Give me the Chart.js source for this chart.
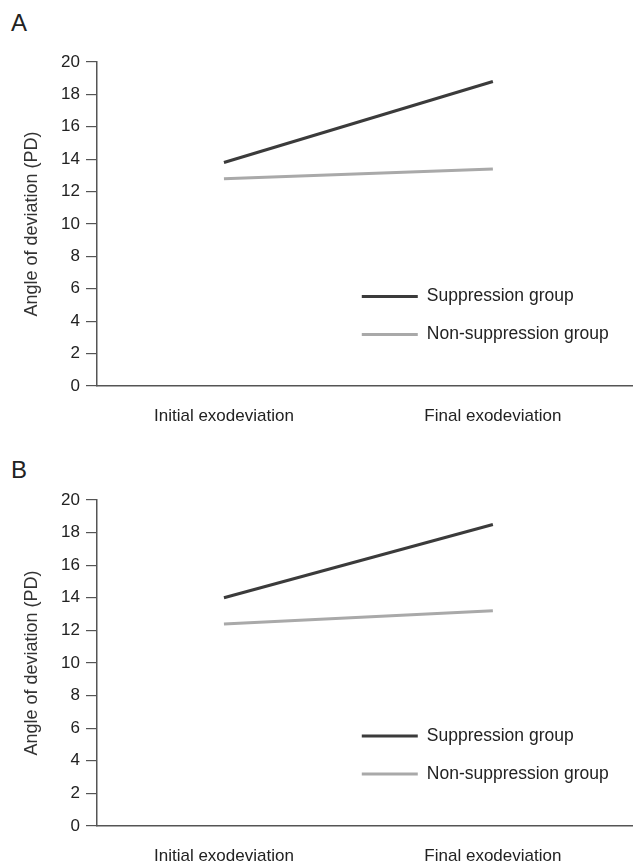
<!DOCTYPE html>
<html>
<head>
<meta charset="utf-8">
<script src="https://cdn.jsdelivr.net/npm/chart.js@4.4.1/dist/chart.umd.min.js"></script>
<style>
  html, body { margin: 0; padding: 0; background: #fff; }
  body { width: 633px; height: 864px; position: relative; overflow: hidden; font-family: "Liberation Sans", Arial, sans-serif; }
  .panel { position: absolute; left: 0; width: 633px; height: 432px; }
  .panel canvas { position: absolute; left: 0; top: 0; }
  .letter { position: absolute; left: 11px; font-size: 24px; color: #222; }
</style>
</head>
<body>
<div class="panel" style="top:0">
  <div class="letter" style="top:9px">A</div>
  <canvas id="chartA" width="633" height="432"></canvas>
</div>
<div class="panel" style="top:432px">
  <div class="letter" style="top:24px">B</div>
  <canvas id="chartB" width="633" height="432"></canvas>
</div>
<script>
const categories = ["Initial exodeviation", "Final exodeviation"]
const seriesNames = ["Suppression group", "Non-suppression group"]
const suppressionA = [13.8, 18.8]
const nonSuppressionA = [12.8, 13.4]
const suppressionB = [14.0, 18.5]
const nonSuppressionB = [12.4, 13.2]
const yMin = 0
const yMax = 20
const yStep = 2
const yTitle = "Angle of deviation (PD)"

const darkLine = "#3b3b3b"
const lightLine = "#a9a9a9"
const axisColor = "#555"
const textColor = "#222"
const fontFamily = "'Liberation Sans', Arial, sans-serif"

// legend drawn inside the plot area, lower right
const insideLegend = {
  id: "insideLegend",
  afterDraw(chart) {
    const { ctx, chartArea } = chart
    const w = chartArea.right - chartArea.left
    const h = chartArea.bottom - chartArea.top
    const x0 = chartArea.left + w * 0.494
    const y0 = chartArea.top + h * 0.724
    ctx.save()
    ctx.font = "17.5px " + fontFamily
    ctx.textBaseline = "middle"
    chart.data.datasets.forEach((ds, i) => {
      const y = y0 + i * 38
      ctx.strokeStyle = ds.borderColor
      ctx.lineWidth = ds.borderWidth
      ctx.beginPath()
      ctx.moveTo(x0, y)
      ctx.lineTo(x0 + 56, y)
      ctx.stroke()
      ctx.fillStyle = textColor
      ctx.fillText(ds.label, x0 + 65, y)
    })
    ctx.restore()
  }
}

const toPoints = (values) => values.map((v, i) => ({ x: i, y: v }))

function makeChart(id, sup, non, top, bottom) {
  const canvas = document.getElementById(id)
  return new Chart(canvas, {
    type: "line",
    data: {
      datasets: [
        { label: seriesNames[0], data: toPoints(sup), borderColor: darkLine, borderWidth: 3, pointRadius: 0, tension: 0, fill: false },
        { label: seriesNames[1], data: toPoints(non), borderColor: lightLine, borderWidth: 3, pointRadius: 0, tension: 0, fill: false }
      ]
    },
    options: {
      responsive: false,
      animation: false,
      layout: { padding: { top: top, left: 0, right: 0, bottom: 0 } },
      plugins: { legend: { display: false }, tooltip: { enabled: false } },
      scales: {
        x: {
          type: "linear",
          min: -0.472,
          max: 1.521,
          grid: { display: false, drawTicks: false },
          border: { color: axisColor, width: 1.5 },
          ticks: {
            stepSize: 1,
            includeBounds: false,
            autoSkip: false,
            maxRotation: 0,
            color: textColor,
            padding: 20,
            font: { size: 17, family: fontFamily },
            callback: (value) => categories[value] ?? ""
          },
          afterFit(scale) { scale.height = 432 - bottom }
        },
        y: {
          min: yMin,
          max: yMax,
          ticks: { stepSize: yStep, color: textColor, padding: 6, font: { size: 17, family: fontFamily } },
          grid: { drawOnChartArea: false, drawTicks: true, tickLength: 11, color: axisColor, lineWidth: 1.2 },
          border: { color: axisColor, width: 1.5 },
          title: {
            display: true,
            text: yTitle,
            color: "#333",
            padding: { top: 21, bottom: 0 },
            font: { size: 18, family: fontFamily }
          },
          afterFit(scale) { scale.width = 97 }
        }
      }
    },
    plugins: [insideLegend]
  })
}

makeChart("chartA", suppressionA, nonSuppressionA, 62, 386)
makeChart("chartB", suppressionB, nonSuppressionB, 68, 394)
</script>
</body>
</html>
